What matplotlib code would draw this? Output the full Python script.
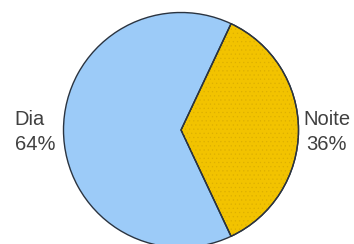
import numpy as np
import matplotlib
matplotlib.use("Agg")
import matplotlib.pyplot as plt
from matplotlib.patches import Wedge

categories = ["Noite", "Dia"]
values = [36, 64]
colors = ["#F2C300", "#9CCBF8"]

plt.rcParams["hatch.linewidth"] = 0.4

W, H = 354, 244
fig = plt.figure(figsize=(W / 100, H / 100), dpi=100)
ax = fig.add_axes([0, 0, 1, 1])

cx, cy, r = 181, H - 130, 117.5
start = -values[0] / sum(values) * 180
wedges, _ = ax.pie(values, colors=colors, startangle=start, counterclock=True,
                   center=(cx, cy), radius=r,
                   wedgeprops=dict(edgecolor="#2b3440", linewidth=1.0))

# subtle dotted texture on the gold slice
w0 = wedges[0]
tex = Wedge(w0.center, w0.r, w0.theta1, w0.theta2, facecolor="none",
            edgecolor="#DDB000", linewidth=0, hatch="....", zorder=w0.get_zorder() + 0.1)
ax.add_patch(tex)
outline = Wedge(w0.center, w0.r, w0.theta1, w0.theta2, facecolor="none",
                edgecolor="#2b3440", linewidth=1.0, zorder=w0.get_zorder() + 0.2)
ax.add_patch(outline)

total = sum(values)
offsets = {"Noite": (122, "left"), "Dia": (126, "right")}
for w, cat, v in zip(wedges, categories, values):
    ang = np.deg2rad((w.theta1 + w.theta2) / 2)
    d, ha = offsets[cat]
    x = cx + d * np.cos(ang)
    y = cy - 2
    ax.text(x, y, f"{cat}\n{round(100 * v / total)}%", ha=ha, va="center",
            multialignment="center" if cat == "Noite" else "left",
            fontsize=14.5, color="#404040", family="Liberation Sans",
            linespacing=1.35)

ax.set_xlim(0, W)
ax.set_ylim(0, H)
ax.set_aspect("equal")
ax.axis("off")
fig.savefig("out.png", dpi=100)
